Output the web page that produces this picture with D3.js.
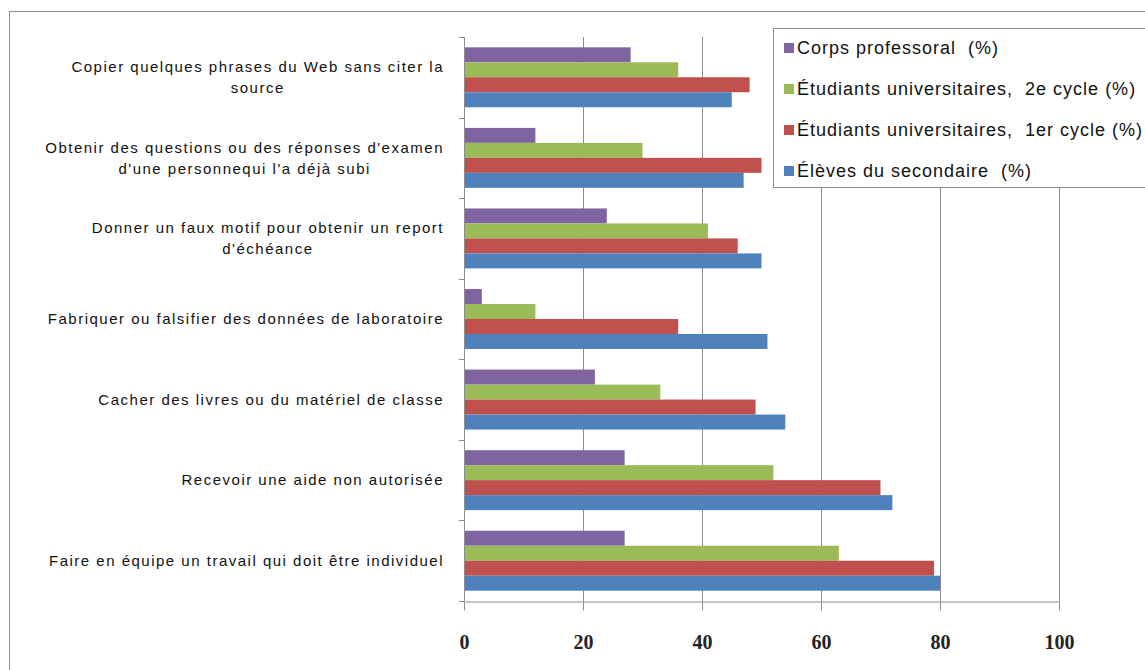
<!DOCTYPE html>
<html lang="fr">
<head>
    <meta charset="UTF-8">
    <script src="https://cdnjs.cloudflare.com/ajax/libs/d3/7.8.5/d3.min.js"></script>
    <title>Tricherie</title>
    <style>
        body { margin: 0; background: #fff; }
        text { font-family: "Liberation Sans", Arial, sans-serif; }
    </style>
</head>
<body>
<script>
    // données (catégories de haut en bas)
    var categories = [
        ["Copier quelques phrases du Web sans citer la", "source"],
        ["Obtenir des questions ou des réponses d'examen", "d'une personnequi l'a déjà subi"],
        ["Donner un faux motif pour obtenir un report", "d'échéance"],
        ["Fabriquer ou falsifier des données de laboratoire"],
        ["Cacher des livres ou du matériel de classe"],
        ["Recevoir une aide non autorisée"],
        ["Faire en équipe un travail qui doit être individuel"]
    ];
    var seriesNames = [
        "Corps professoral  (%)",
        "Étudiants universitaires,  2e cycle (%)",
        "Étudiants universitaires,  1er cycle (%)",
        "Élèves du secondaire  (%)"
    ];
    var professeurs = [28, 12, 24, 3, 22, 27, 27];
    var cycle2 = [36, 30, 41, 12, 33, 52, 63];
    var cycle1 = [48, 50, 46, 36, 49, 70, 79];
    var secondaire = [45, 47, 50, 51, 54, 72, 80];
    var seriesValues = [professeurs, cycle2, cycle1, secondaire];
    var colors = ["#8064A2", "#9BBB59", "#C0504D", "#4F81BD"];
    var xTicks = [0, 20, 40, 60, 80, 100];

    var width = 1145, height = 670;
    var plotLeft = 464, plotRight = 1059, plotTop = 37, plotBottom = 601;

    var svg = d3.select("body").append("svg")
        .attr("width", width)
        .attr("height", height);

    // cadre extérieur
    svg.append("rect")
        .attr("x", 9.5).attr("y", 11.5)
        .attr("width", 1200).attr("height", 700)
        .attr("fill", "#fff").attr("stroke", "#8c8c8c");

    var x = d3.scaleLinear().domain([0, 100]).range([plotLeft, plotRight]);
    var catIdx = d3.range(categories.length);
    var y0 = d3.scaleBand().domain(catIdx).range([plotTop, plotBottom])
        .paddingInner(0.256).paddingOuter(0.128);
    var y1 = d3.scaleBand().domain(d3.range(seriesNames.length)).range([0, y0.bandwidth()]);

    // grille verticale
    svg.append("g").selectAll("line")
        .data(xTicks.slice(1))
        .enter().append("line")
        .attr("x1", function (d) { return Math.round(x(d)) + 0.5; })
        .attr("x2", function (d) { return Math.round(x(d)) + 0.5; })
        .attr("y1", plotTop).attr("y2", plotBottom)
        .attr("stroke", "#8c8c8c");

    // barres
    var groups = svg.append("g").selectAll("g")
        .data(catIdx)
        .enter().append("g")
        .attr("transform", function (i) { return "translate(0," + y0(i) + ")"; });

    groups.selectAll("rect")
        .data(function (i) {
            return seriesValues.map(function (vals, s) { return { s: s, v: vals[i] }; });
        })
        .enter().append("rect")
        .attr("x", x(0))
        .attr("y", function (d) { return y1(d.s); })
        .attr("width", function (d) { return x(d.v) - x(0); })
        .attr("height", y1.bandwidth())
        .attr("fill", function (d) { return colors[d.s]; });

    // axe des x
    var xAxis = svg.append("g")
        .attr("transform", "translate(0," + (plotBottom + 0.5) + ")")
        .call(d3.axisBottom(x).tickValues(xTicks).tickSize(9).tickPadding(24).tickSizeOuter(0));
    xAxis.select(".domain").attr("stroke", "#8c8c8c");
    xAxis.selectAll(".tick line").attr("stroke", "#8c8c8c");
    xAxis.selectAll(".tick text")
        .style("font-family", "'Liberation Serif', serif")
        .attr("font-size", 20)
        .attr("font-weight", "bold")
        .attr("fill", "#222");

    // axe des y (graduations entre catégories)
    svg.append("line")
        .attr("x1", plotLeft + 0.5).attr("x2", plotLeft + 0.5)
        .attr("y1", plotTop).attr("y2", plotBottom)
        .attr("stroke", "#8c8c8c");
    svg.append("g").selectAll("line")
        .data(d3.range(categories.length + 1))
        .enter().append("line")
        .attr("x1", plotLeft - 5).attr("x2", plotLeft)
        .attr("y1", function (i) { return Math.round(plotTop + i * y0.step()) + 0.5; })
        .attr("y2", function (i) { return Math.round(plotTop + i * y0.step()) + 0.5; })
        .attr("stroke", "#8c8c8c");

    // étiquettes des catégories
    var lineH = 21;
    var labels = svg.append("g").selectAll("text")
        .data(catIdx)
        .enter().append("text")
        .attr("text-anchor", "middle")
        .attr("font-size", 15)
        .attr("letter-spacing", 1.5)
        .attr("fill", "#111");
    labels.each(function (i) {
        var t = d3.select(this);
        var lines = categories[i];
        var cy = y0(i) + y0.bandwidth() / 2;
        lines.forEach(function (l, k) {
            t.append("tspan")
                .attr("y", cy + (k - (lines.length - 1) / 2) * lineH)
                .attr("dy", "0.35em")
                .text(l);
        });
        // centrer les lignes sur la plus longue, alignée à droite
        var w = d3.max(t.selectAll("tspan").nodes(), function (n) { return n.getComputedTextLength(); });
        t.selectAll("tspan").attr("x", 444 - w / 2);
    });

    // légende
    var legend = svg.append("g");
    legend.append("rect")
        .attr("x", 773.5).attr("y", 28.5)
        .attr("width", 400).attr("height", 159)
        .attr("fill", "#fff").attr("stroke", "#8c8c8c");
    var items = legend.selectAll("g.item")
        .data(seriesNames)
        .enter().append("g")
        .attr("class", "item")
        .attr("transform", function (d, i) { return "translate(784," + (48 + i * 41) + ")"; });
    items.append("rect")
        .attr("x", 0).attr("y", -5)
        .attr("width", 10).attr("height", 10)
        .attr("fill", function (d, i) { return colors[i]; });
    items.append("text")
        .attr("x", 13).attr("dy", "0.35em")
        .attr("font-size", 18)
        .attr("letter-spacing", 1.0)
        .attr("fill", "#111")
        .style("white-space", "pre")
        .text(function (d) { return d; });
</script>
</body>
</html>
